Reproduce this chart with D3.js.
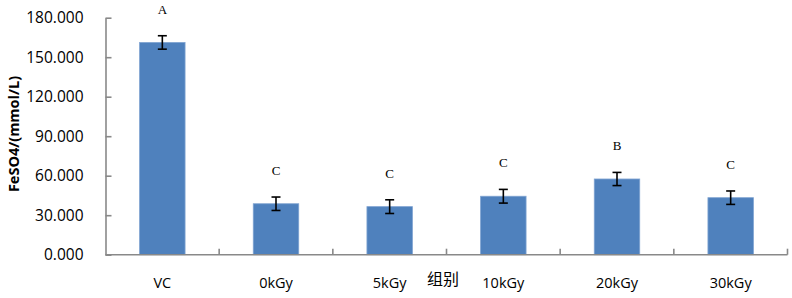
<!DOCTYPE html>
<html><head><meta charset="utf-8">
<script src="https://cdn.jsdelivr.net/npm/d3@7"></script>
<style>body{margin:0;background:#fff}svg{display:block}</style>
</head><body>
<svg id="c" width="792" height="298"></svg>
<script>
const categories = ["VC","0kGy","5kGy","10kGy","20kGy","30kGy"];
const values = [161.2, 38.7, 36.5, 44.4, 57.5, 43.3];
const errors = [5.1, 5.1, 5.2, 5.2, 5.0, 5.1];
const letters = ["A","C","C","C","B","C"];
const yTicks = [0,30,60,90,120,150,180];
const yTitle = "FeSO4/(mmol/L)";
const xTitle = "组别";

const svg = d3.select("#c");
const x = d3.scaleBand().domain(categories).range([105.5, 787.5]).paddingInner(0.6).paddingOuter(0.3);
const y = d3.scaleLinear().domain([0,180]).range([254.7, 17.7]);
const axisColor = "#898989";
const font = "'Open Sans', sans-serif";

// bars
svg.selectAll("rect.bar").data(values).join("rect").attr("class","bar")
  .attr("x",(d,i)=>x(categories[i])).attr("width",x.bandwidth())
  .attr("y",d=>y(d)).attr("height",d=>y(0)-y(d))
  .attr("fill","#4F81BD").attr("stroke","#7FA3D1").attr("stroke-width",0.8);

// axes
const yAxis = svg.append("g").attr("transform","translate(105.5,0)")
  .call(d3.axisLeft(y).tickValues(yTicks).tickSizeInner(-6).tickSizeOuter(0).tickFormat(d3.format(".3f")).tickPadding(22));
yAxis.select(".domain").attr("stroke",axisColor).attr("stroke-width",1.6);
yAxis.selectAll(".tick line").attr("stroke",axisColor).attr("stroke-width",1.6);
yAxis.selectAll(".tick text").attr("font-family",font).attr("font-size",15.5).attr("fill","#000");

// x axis with boundary ticks
const xg = svg.append("g").attr("transform",`translate(0,${y(0)})`);
xg.append("line").attr("x1",105.5).attr("x2",787.5).attr("stroke",axisColor).attr("stroke-width",1.6);
const step = x.step();
const bounds = d3.range(categories.length+1).map(i=>105.5 + i*(787.5-105.5)/categories.length);
xg.selectAll("line.t").data(bounds.slice(1)).join("line").attr("class","t")
  .attr("x1",d=>d).attr("x2",d=>d).attr("y1",0).attr("y2",-6).attr("stroke",axisColor).attr("stroke-width",1.6);
xg.selectAll("text").data(categories).join("text")
  .attr("x",d=>x(d)+x.bandwidth()/2).attr("y",28).attr("dy","0.35em")
  .attr("text-anchor","middle").attr("font-family",font).attr("font-size",14.5).text(d=>d);

// error bars
const eb = svg.append("g").attr("stroke","#000").attr("stroke-width",1.6);
values.forEach((v,i)=>{
  const cx = x(categories[i]) + x.bandwidth()/2;
  eb.append("line").attr("x1",cx).attr("x2",cx).attr("y1",y(v+errors[i])).attr("y2",y(v-errors[i]));
  eb.append("line").attr("x1",cx-4.5).attr("x2",cx+4.5).attr("y1",y(v+errors[i])).attr("y2",y(v+errors[i]));
  eb.append("line").attr("x1",cx-4.5).attr("x2",cx+4.5).attr("y1",y(v-errors[i])).attr("y2",y(v-errors[i]));
});

// letters
svg.selectAll("text.lt").data(letters).join("text").attr("class","lt")
  .attr("x",(d,i)=>x(categories[i])+x.bandwidth()/2)
  .attr("y",(d,i)=>y(values[i]+errors[i]) - 26.5).attr("dy","0.35em")
  .attr("text-anchor","middle").attr("font-family","'Liberation Serif', serif").attr("font-size",13).text(d=>d);

// titles
svg.append("text").attr("transform","translate(14,134) rotate(-90)").attr("dy","0.35em")
  .attr("text-anchor","middle").attr("font-family",font).attr("font-weight","bold").attr("font-size",14.5).text(yTitle);
svg.append("text").attr("x",443).attr("y",279).attr("dy","0.35em").attr("text-anchor","middle")
  .attr("font-family","'Noto Sans CJK SC', sans-serif").attr("font-size",16).text(xTitle);
</script>
</body></html>
